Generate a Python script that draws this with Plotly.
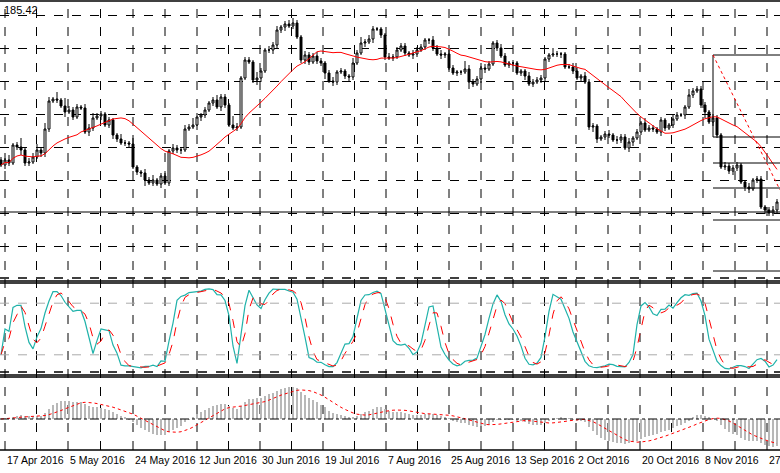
import plotly.graph_objects as go
import numpy as np

W, H = 780, 473
# closes read as vertical pixel levels of the main pane (converted to price below)
close_lv = [165,160,163,145,147,150,163,162,157,150,153,129,101,99,100,106,112,110,117,107,
108,132,128,118,116,114,125,120,135,139,143,143,144,167,172,173,180,183,180,184,
176,183,151,148,150,150,129,127,125,117,115,110,103,100,107,97,105,125,128,127,
78,60,62,80,78,71,50,50,45,30,27,24,26,23,37,60,55,62,56,61,
63,73,81,82,72,71,76,77,63,53,43,42,39,29,29,35,57,58,57,50,
46,53,55,54,50,47,40,40,48,54,55,54,68,73,72,72,69,82,84,79,
68,69,64,43,48,56,65,63,63,73,71,76,84,82,80,78,59,55,54,54,
54,67,67,71,78,76,82,127,126,139,137,134,135,140,140,137,148,142,138,132,
123,130,128,129,132,120,128,125,119,115,115,107,95,91,89,105,112,122,118,135,
167,166,171,168,165,182,187,189,180,179,207,210,213,210,202]
first_open_lv = 160
wick_up = "3252393446264272843324453323225326224352332433437423235332942332632434234532433432342322536343222433332433224342432284332432343232224333226322343243322342433423253323224322633332432433322423323432"
wick_dn = "2432353322443232523222432423432332346232423334222543232432232223542343342323432336243234322424233232232432343243223327324422322332342323432342232323542332432442322324323224232362432334324423243342323"
date_labels = ["17 Apr 2016","5 May 2016","24 May 2016","12 Jun 2016","30 Jun 2016","19 Jul 2016",
               "7 Aug 2016","25 Aug 2016","13 Sep 2016","2 Oct 2016","20 Oct 2016","8 Nov 2016","27"]
label_px = [5,68,133,197,260,323,386,449,513,576,640,703,767]
price_label = "185.42"

n = len(close_lv)
close = np.array([300 - v for v in close_lv], float)
opn = np.concatenate([[300 - first_open_lv], close[:-1]])
up = np.array([int(c) for c in wick_up[:n]])
dn = np.array([int(c) for c in wick_dn[:n]])
high = np.maximum(opn, close) + up
low = np.minimum(opn, close) - dn
x = np.arange(n)

def sma(a, p):  # partial windows at the start
    return np.array([np.mean(a[max(0, i - p + 1):i + 1]) for i in range(len(a))])
def ema(a, p):
    k = 2 / (p + 1); out = np.zeros(len(a)); out[0] = a[0]
    for i in range(1, len(a)):
        out[i] = a[i] * k + out[i - 1] * (1 - k)
    return out

ma = sma(close, 20)
KP = 10
hh = np.array([high[max(0, j-KP+1):j+1].max() for j in range(n)])
ll = np.array([low[max(0, j-KP+1):j+1].min() for j in range(n)])
K = np.array([100 * np.sum(close[max(0, i-2):i+1] - ll[max(0, i-2):i+1]) /
              np.sum(hh[max(0, i-2):i+1] - ll[max(0, i-2):i+1]) for i in range(n)])
D = sma(K, 3)
macd = ema(close, 12) - ema(close, 26)
sig = sma(macd, 9)

def py(p):  # pixel -> paper
    return 1 - p / H
def dom(a, b):
    return [py(b), py(a)]

fig = go.Figure()
fig.add_trace(go.Candlestick(x=x, open=opn, high=high, low=low, close=close,
    increasing=dict(line=dict(color="black", width=1), fillcolor="white"),
    decreasing=dict(line=dict(color="black", width=1), fillcolor="black"),
    whiskerwidth=0, xaxis="x", yaxis="y", showlegend=False))
fig.add_trace(go.Scatter(x=x, y=ma, mode="lines", line=dict(color="red", width=1), xaxis="x", yaxis="y"))
fig.add_trace(go.Scatter(x=x, y=K, mode="lines", line=dict(color="#20B2AA", width=1.2), xaxis="x", yaxis="y2"))
fig.add_trace(go.Scatter(x=x, y=D, mode="lines", line=dict(color="red", width=1, dash="dash"), xaxis="x", yaxis="y2"))
fig.add_trace(go.Bar(x=x, y=macd, marker=dict(color="#b8b8b8", line=dict(width=0)), width=0.3, xaxis="x", yaxis="y3"))
fig.add_trace(go.Scatter(x=x, y=sig, mode="lines", line=dict(color="red", width=1, dash="dot"), xaxis="x", yaxis="y3"))

grid_x = []
for a, b in zip(label_px[:-1], label_px[1:]):
    grid_x += [(a - 1) / 4, ((a + b) / 2 - 1) / 4]
grid_x += [(label_px[-1] - 1) / 4]

mpos = np.nanmax(np.abs(macd))
T = mpos * 42 / 32
fig.update_layout(
    width=W, height=H, margin=dict(l=0, r=0, t=0, b=0), showlegend=False,
    plot_bgcolor="white", paper_bgcolor="white", bargap=0,
    xaxis=dict(range=[-0.25, 194.75], domain=[0, 1], showticklabels=False, rangeslider=dict(visible=False),
               showgrid=False, zeroline=False, anchor="y3"),
    yaxis=dict(domain=dom(2, 280), range=[20, 298], showticklabels=False, tick0=21, dtick=33,
               showgrid=True, gridcolor="black", griddash="dash", zeroline=False),
    yaxis2=dict(domain=dom(286, 372), range=[0, 100], showticklabels=False, showgrid=False, zeroline=False),
    yaxis3=dict(domain=dom(377, 450), range=[-T * 31 / 42, T], showticklabels=False, showgrid=False, zeroline=False),
)
shapes = []
for gx in grid_x:
    shapes.append(dict(type="line", xref="x", yref="paper", x0=gx, x1=gx, y0=py(450), y1=py(0),
                       line=dict(color="black", width=1, dash="dash"), layer="below"))
for lvl in [20, 80]:
    shapes.append(dict(type="line", xref="paper", yref="y2", x0=0, x1=1, y0=lvl, y1=lvl,
                       line=dict(color="#aaaaaa", width=1, dash="dash")))
shapes.append(dict(type="line", xref="paper", yref="y3", x0=0, x1=1, y0=0, y1=0,
                   line=dict(color="black", width=1, dash="dashdot")))
for p, d in [(1, None), (281, None), (283, None), (372, "dash"), (375, None), (377, None), (450, None), (278, "dash")]:
    shapes.append(dict(type="line", xref="paper", yref="paper", x0=0, x1=1, y0=py(p), y1=py(p),
                       line=dict(color="black", width=1.3, dash=d)))
shapes.append(dict(type="line", xref="paper", yref="y", x0=0, x1=1, y0=300 - 212, y1=300 - 212,
                   line=dict(color="black", width=1)))
fx0 = (713 - 1) / 4
for lv in [55, 137, 163, 188, 220, 271]:
    shapes.append(dict(type="line", xref="x", yref="y", x0=fx0, x1=194.75, y0=300 - lv, y1=300 - lv,
                       line=dict(color="black", width=1)))
shapes.append(dict(type="line", xref="x", yref="y", x0=fx0, x1=fx0, y0=300 - 55, y1=300 - 137,
                   line=dict(color="black", width=1)))
shapes.append(dict(type="line", xref="x", yref="y", x0=fx0, x1=194.75, y0=300 - 55, y1=300 - 190,
                   line=dict(color="red", width=1, dash="dot")))
fig.update_layout(shapes=shapes)
ann = [dict(text=price_label, x=0.002, y=py(2), xref="paper", yref="paper", xanchor="left", yanchor="top",
            showarrow=False, font=dict(family="Liberation Sans", size=11, color="black"))]
for t, p in zip(date_labels, label_px):
    ann.append(dict(text=t, x=p / W, y=py(452), xref="paper", yref="paper", xanchor="left", yanchor="top",
                    showarrow=False, font=dict(family="Liberation Sans", size=10.5, color="black")))
fig.update_layout(annotations=ann)
fig.write_html("out.html", config={"displayModeBar": False},
               post_script="document.body.style.margin='0';document.body.style.overflow='hidden';")
